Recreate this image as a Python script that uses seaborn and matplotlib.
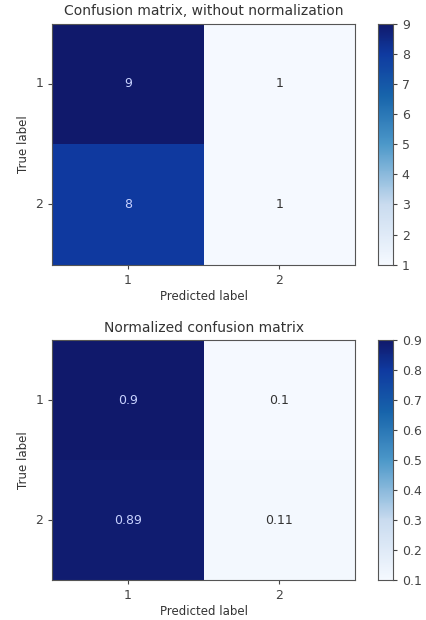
import numpy as np
import seaborn as sns
import matplotlib.pyplot as plt
from matplotlib.colors import LinearSegmentedColormap

classes = ["1", "2"]
counts = [[9, 1],
          [8, 1]]
normalized = [[0.9, 0.1],
              [0.89, 0.11]]
titles = ["Confusion matrix, without normalization", "Normalized confusion matrix"]

# Blues-like map, tuned toward the deeper navy of the reference
blues = LinearSegmentedColormap.from_list(
    "blues_navy",
    [(0.0, "#f5f9ff"), (0.25, "#c9dbef"), (0.5, "#4c98c9"),
     (0.7, "#1764ab"), (0.875, "#0f3aa0"), (1.0, "#10196b")])

fig = plt.figure(figsize=(4.27, 6.2), dpi=100)
ax_top = fig.add_axes([0.122, 0.573, 0.710, 0.389])
cb_top = fig.add_axes([0.885, 0.573, 0.035, 0.389])
ax_bot = fig.add_axes([0.122, 0.064, 0.710, 0.387])
cb_bot = fig.add_axes([0.885, 0.064, 0.035, 0.387])


def draw(ax, cax, data, title, ticks, fmt):
    data = np.array(data)
    sns.heatmap(data, ax=ax, cbar_ax=cax, cmap=blues, annot=False,
                xticklabels=classes, yticklabels=classes,
                vmin=data.min(), vmax=data.max(),
                cbar_kws={"ticks": ticks})
    thresh = (data.max() + data.min()) / 2
    for i in range(data.shape[0]):
        for j in range(data.shape[1]):
            color = "#c8d2ff" if data[i, j] > thresh else "#333333"
            ax.text(j + 0.5, i + 0.5, format(data[i, j], fmt),
                    ha="center", va="center", color=color, fontsize=9)
    ax.set_title(title, fontsize=10, color="#333333")
    ax.set_xlabel("Predicted label", fontsize=8.5, color="#333333", labelpad=2)
    ax.set_ylabel("True label", fontsize=8.5, color="#333333")
    ax.tick_params(labelsize=9, colors="#444444", length=3)
    ax.set_yticklabels(classes, rotation=0)
    for s in ax.spines.values():
        s.set_visible(True)
        s.set_color("#555555")
    cax.tick_params(labelsize=9, colors="#444444", length=3)
    cax.set_frame_on(True)
    for s in cax.spines.values():
        s.set_visible(True)
        s.set_color("#555555")


draw(ax_top, cb_top, counts, titles[0], list(range(1, 10)), "d")
draw(ax_bot, cb_bot, normalized, titles[1],
     [0.1, 0.2, 0.3, 0.4, 0.5, 0.6, 0.7, 0.8, 0.9], "g")

fig.savefig("out.png", dpi=100)
